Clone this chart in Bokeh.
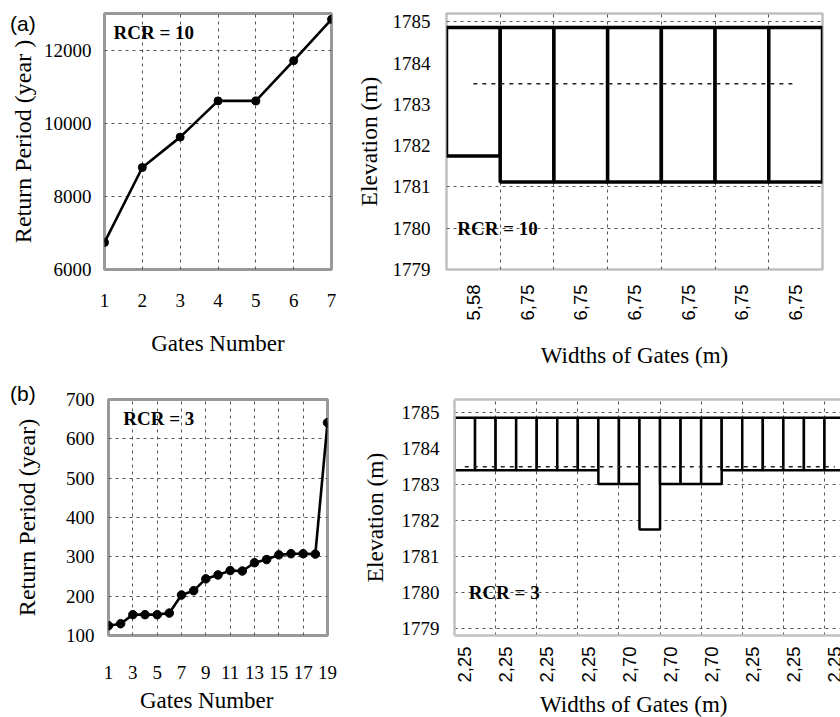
import numpy as np
from bokeh.plotting import figure
from bokeh.models import FixedTicker, Label, LinearAxis, Range1d, ColumnDataSource, Div
from bokeh.layouts import row, column
from bokeh.embed import file_html
from bokeh.resources import INLINE

# ---------------- data ----------------
gates_a = [1, 2, 3, 4, 5, 6, 7]
return_period_a = [6740, 8790, 9620, 10610, 10610, 11710, 12840]
rp_ticks_a = [6000, 8000, 10000, 12000]

gates_b = [1, 2, 3, 4, 5, 6, 7, 8, 9, 10, 11, 12, 13, 14, 15, 16, 17, 18, 19]
return_period_b = [125, 130, 153, 153, 153, 157, 203, 214, 244, 254,
                   265, 264, 285, 293, 305, 308, 308, 307, 641]
rp_ticks_b = [100, 200, 300, 400, 500, 600, 700]

width_labels_a = ["5,58", "6,75", "6,75", "6,75", "6,75", "6,75", "6,75"]
sill_a = [1781.75, 1781.12, 1781.12, 1781.12, 1781.12, 1781.12, 1781.12]

width_labels_b = ["2,25", "2,25", "2,25", "2,25", "2,25", "2,25", "2,25",
                  "2,70", "2,70", "2,70", "2,70", "2,70", "2,70",
                  "2,25", "2,25", "2,25", "2,25", "2,25", "2,25"]
sill_b = [1783.40, 1783.40, 1783.40, 1783.40, 1783.40, 1783.40, 1783.40,
          1783.02, 1783.02, 1781.75, 1783.02, 1783.02, 1783.02,
          1783.40, 1783.40, 1783.40, 1783.40, 1783.40, 1783.40]

elev_ticks = [1779, 1780, 1781, 1782, 1783, 1784, 1785]
crest_elevation = 1784.86
water_level = 1783.5

rcr_a = "RCR = 10"
rcr_b = "RCR = 3"

SERIF = "Liberation Serif"
SANS = "Liberation Sans"
GRID = "#555555"

H_TOP = 378
H_BOT = 338
TOP_MBT, TOP_MBB = 13, 109      # frames of the top row: y 13 .. 269
BOT_MBT, BOT_MBB = 21, 81       # frames of the bottom row: y 399 .. 635


def make_fig(width, height, xr, yr, mbl, mbr, mbt, mbb):
    p = figure(width=width, height=height, x_range=xr, y_range=yr,
               output_backend="svg", toolbar_location=None,
               min_border_left=mbl, min_border_right=mbr,
               min_border_top=mbt, min_border_bottom=mbb)
    p.background_fill_color = "white"
    p.border_fill_color = "white"
    for ax in p.axis:
        ax.axis_line_color = None
        ax.major_tick_line_color = None
        ax.minor_tick_line_color = None
        ax.major_tick_out = 0
        ax.major_tick_in = 0
        ax.major_label_text_color = "black"
        ax.axis_label_text_color = "black"
        ax.axis_label_text_font_style = "normal"
        ax.axis_label_text_font = SERIF
    p.grid.grid_line_color = GRID
    p.grid.grid_line_dash = "3 4"
    p.grid.grid_line_width = 1
    return p


def rcr_label(x, y, text):
    return Label(x=x, y=y, text=text, text_font=SERIF, text_font_size="19px",
                 text_font_style="bold", text_color="black",
                 text_baseline="middle", text_align="left")


def overlay_text(text, left, top, font, size):
    return Div(text=text, styles={
        "position": "absolute", "left": f"{left}px", "top": f"{top}px",
        "z-index": "10", "font-family": font, "font-size": f"{size}px",
        "line-height": "1", "white-space": "nowrap", "color": "black",
        "margin": "0", "padding": "0"})


# ---------------- (a) left: return period ----------------
p1 = make_fig(338, H_TOP, Range1d(1, 7), Range1d(6000, 13000), 104, 7, TOP_MBT, TOP_MBB)
p1.xaxis.ticker = FixedTicker(ticks=gates_a)
p1.xgrid.ticker = FixedTicker(ticks=gates_a)
p1.yaxis.ticker = FixedTicker(ticks=rp_ticks_a)
p1.ygrid.ticker = FixedTicker(ticks=rp_ticks_a)
p1.xaxis.major_label_text_font = SERIF
p1.yaxis.major_label_text_font = SERIF
p1.axis.major_label_text_font_size = "19px"
p1.yaxis.major_label_standoff = 13
p1.xaxis.major_label_standoff = 24
p1.yaxis.axis_label = "Return Period (year )"
p1.yaxis.axis_label_text_font_size = "24px"
p1.yaxis.axis_label_standoff = 5
p1.xaxis.axis_label = "Gates Number"
p1.xaxis.axis_label_text_font_size = "23px"
p1.xaxis.axis_label_standoff = 21
p1.outline_line_color = "#999999"
p1.outline_line_width = 3
p1.line(gates_a, return_period_a, line_color="black", line_width=2.6)
p1.scatter(gates_a, return_period_a, size=8, fill_color="black", line_color="black")
p1.add_layout(rcr_label(1.24, 12494, rcr_a))

# ---------------- (a) right: gates elevation ----------------
n_a = len(sill_a)
src_a = ColumnDataSource(dict(
    left=[i for i in range(n_a)],
    right=[i + 1 for i in range(n_a)],
    bottom=sill_a,
    top=[crest_elevation] * n_a,
))
centers_a = [i + 0.5 for i in range(n_a)]
p2 = make_fig(502, H_TOP, Range1d(0, n_a), Range1d(1779, 1785.2), 108, 18, TOP_MBT, TOP_MBB)
p2.xaxis.ticker = FixedTicker(ticks=centers_a)
p2.xaxis.major_label_overrides = {c: lab for c, lab in zip(centers_a, width_labels_a)}
p2.xgrid.ticker = FixedTicker(ticks=[i for i in range(1, n_a)])
p2.yaxis.ticker = FixedTicker(ticks=elev_ticks)
p2.ygrid.ticker = FixedTicker(ticks=elev_ticks)
p2.xaxis.major_label_orientation = np.pi / 2
p2.xaxis.major_label_text_font = SANS
p2.xaxis.major_label_text_font_size = "18.5px"
p2.xaxis.major_label_standoff = 15
p2.yaxis.major_label_text_font = SERIF
p2.yaxis.major_label_text_font_size = "19px"
p2.yaxis.major_label_standoff = 16
p2.yaxis.axis_label = "Elevation (m)"
p2.yaxis.axis_label_text_font_size = "23.5px"
p2.yaxis.axis_label_standoff = 8
p2.xaxis.axis_label = "Widths of Gates (m)"
p2.xaxis.axis_label_text_font_size = "23px"
p2.xaxis.axis_label_standoff = 19
p2.outline_line_color = "#c0c0c0"
p2.outline_line_width = 2.5
p2.quad(left="left", right="right", bottom="bottom", top="top", source=src_a,
        fill_color="white", line_color="black", line_width=3.5)
p2.line([centers_a[0], centers_a[-1]], [water_level, water_level],
        line_color="#222222", line_width=1.5, line_dash="4 5")
p2.add_layout(rcr_label(0.2, 1780, rcr_a))

# ---------------- (b) left: return period ----------------
p3 = make_fig(338, H_BOT, Range1d(1, 19), Range1d(100, 700), 108, 11, BOT_MBT, BOT_MBB)
odd_gates = gates_b[::2]
p3.xaxis.ticker = FixedTicker(ticks=odd_gates)
p3.xgrid.ticker = FixedTicker(ticks=odd_gates)
p3.yaxis.ticker = FixedTicker(ticks=rp_ticks_b)
p3.ygrid.ticker = FixedTicker(ticks=rp_ticks_b)
p3.xaxis.major_label_text_font = SERIF
p3.yaxis.major_label_text_font = SERIF
p3.axis.major_label_text_font_size = "19px"
p3.yaxis.major_label_standoff = 14
p3.xaxis.major_label_standoff = 30
p3.xaxis.axis_label = None
p3.xaxis.axis_label_standoff = 0
p3.yaxis.axis_label = "Return Period (year)"
p3.yaxis.axis_label_text_font_size = "24px"
p3.yaxis.axis_label_standoff = 23
p3.outline_line_color = "#999999"
p3.outline_line_width = 3
p3.line(gates_b, return_period_b, line_color="black", line_width=2.6)
p3.scatter(gates_b, return_period_b, size=8.5, fill_color="black", line_color="black")
p3.add_layout(rcr_label(2.21, 651, rcr_b))

# ---------------- (b) right: gates elevation ----------------
n_b = len(sill_b)
src_b = ColumnDataSource(dict(
    left=[i for i in range(n_b)],
    right=[i + 1 for i in range(n_b)],
    bottom=sill_b,
    top=[crest_elevation] * n_b,
))
centers_b = [i + 0.5 for i in range(n_b)]
shown = list(range(0, n_b, 2))
p4 = make_fig(502, H_BOT, Range1d(0, 18.78), Range1d(1778.8, 1785.37), 116, 0, BOT_MBT, BOT_MBB)
p4.xaxis.ticker = FixedTicker(ticks=[centers_b[i] for i in shown])
p4.xaxis.major_label_overrides = {centers_b[i]: width_labels_b[i] for i in shown}
p4.xgrid.ticker = FixedTicker(ticks=[i for i in range(2, n_b, 2)])
p4.yaxis.ticker = FixedTicker(ticks=elev_ticks)
p4.ygrid.ticker = FixedTicker(ticks=elev_ticks)
p4.xaxis.major_label_orientation = np.pi / 2
p4.xaxis.major_label_text_font = SANS
p4.xaxis.major_label_text_font_size = "18.5px"
p4.xaxis.major_label_standoff = 11
p4.xaxis.axis_label = None
p4.xaxis.axis_label_standoff = 0
p4.yaxis.major_label_text_font = SERIF
p4.yaxis.major_label_text_font_size = "19px"
p4.yaxis.major_label_standoff = 15
p4.yaxis.axis_label = "Elevation (m)"
p4.yaxis.axis_label_text_font_size = "23.5px"
p4.yaxis.axis_label_standoff = 11
p4.outline_line_color = None
for ax in (p4.xaxis[0], p4.yaxis[0]):
    ax.axis_line_color = "#c0c0c0"
    ax.axis_line_width = 2.5
top_ax = LinearAxis(ticker=FixedTicker(ticks=[]), axis_line_color="#c0c0c0",
                    axis_line_width=2.5, major_tick_line_color=None,
                    minor_tick_line_color=None, major_label_text_font_size="0px",
                    major_tick_out=0, major_tick_in=0, major_label_standoff=0,
                    axis_label=None)
p4.add_layout(top_ax, "above")
p4.quad(left="left", right="right", bottom="bottom", top="top", source=src_b,
        fill_color="white", line_color="black", line_width=2.5)
p4.line([centers_b[0], centers_b[-1]], [water_level, water_level],
        line_color="#222222", line_width=1.5, line_dash="4 5")
p4.add_layout(rcr_label(0.69, 1780, rcr_b))

# ---------------- overlay texts ----------------
label_a = overlay_text("(a)", 10, 13, SANS, 21)
label_b = overlay_text("(b)", 10, 383, SANS, 21)
xtitle_b_left = overlay_text("Gates Number", 140, 689, SERIF, 23)
xtitle_b_right = overlay_text("Widths of Gates (m)", 540, 693, SERIF, 23)

layout = column(row(p1, p2), row(p3, p4), label_a, label_b, xtitle_b_left, xtitle_b_right)
open("out.html", "w").write(file_html(layout, INLINE))
